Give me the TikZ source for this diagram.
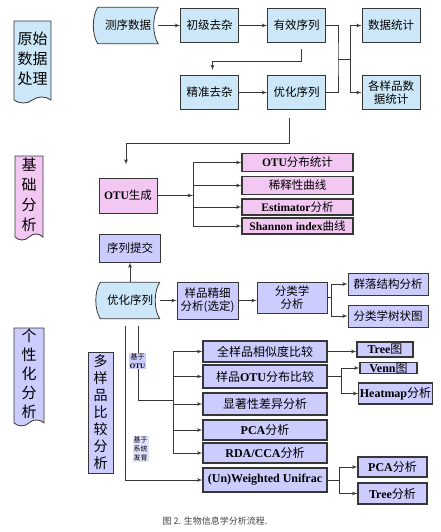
\documentclass[tikz,border=0pt]{standalone}
\usepackage{fontspec}
\setmainfont{Noto Sans CJK SC}
\newfontfamily\tnr{Liberation Serif}
\usepackage{tikz}
\usetikzlibrary{arrows,calc,positioning,shapes.symbols,backgrounds}
\definecolor{bluefill}{RGB}{204,232,248}
\definecolor{pinkfill}{RGB}{242,200,242}
\definecolor{lavfill}{RGB}{204,204,255}
\definecolor{lavlight}{RGB}{226,226,255}
\definecolor{linegray}{RGB}{55,55,55}
\newcommand{\entxt}[1]{{\tnr\bfseries #1}}
% data-store outline drawn behind a node
\newcommand{\storeshape}[1]{%
	\draw[line, fill=bluefill] (#1.north west) .. controls +(-6,9) and +(-6,-9) .. (#1.south west)
		-- (#1.south east) .. controls +(-6,-9) and +(-6,9) .. (#1.north east) -- cycle;}
\tikzset{%
	box/.style      = {draw=linegray, line width=0.8pt, rectangle, inner sep=1pt, align=center, font=\fontsize{11.5}{13}\selectfont},
	bluebox/.style  = {box, fill=bluefill, minimum width=58pt, minimum height=34pt},
	pinkbox/.style  = {box, fill=pinkfill, line width=1.1pt, minimum width=111pt, font=\fontsize{11.5}{13}\selectfont},
	lavbox/.style   = {box, fill=lavfill},
	resbox/.style   = {box, fill=lavfill, line width=1.1pt, font=\fontsize{12}{13}\selectfont},
	banner/.style   = {draw=linegray, line width=0.8pt, tape, tape bend top=none, tape bend height=6pt, inner sep=1pt, align=center, font=\fontsize{15}{20}\selectfont},
	store/.style    = {inner sep=1pt, align=center, minimum height=36pt, font=\fontsize{11.5}{13}\selectfont},
	tag/.style      = {fill=lavfill, inner sep=1pt, align=center, font=\fontsize{7}{9}\selectfont},
	line/.style     = {draw=linegray, line width=0.8pt},
	arrow/.style    = {line, ->},
}

\begin{document}
\begin{tikzpicture}[x=1pt,y=-1pt,>=latex']
	\useasboundingbox (0,0) rectangle (441,532);

	% raw data processing
	\node[banner, fill=bluefill, minimum width=37pt, minimum height=82pt] (pre) at (32.5,59) {原始\\数据\\处理};
	\node[store, minimum width=60pt] (seq) at (128,25.5) {测序数据};
	\node[bluebox] (raw) [right of=seq, node distance=81.5pt] {初级去杂};
	\node[bluebox] (valid) [right of=raw, node distance=87pt] {有效序列};
	\node[bluebox] (stat) [right of=valid, node distance=94.5pt] {数据统计};
	\node[bluebox] (fine) [below of=raw, node distance=67pt] {精准去杂};
	\node[bluebox] (opt) [below of=valid, node distance=67pt] {优化序列};
	\node[bluebox] (sstat) [below of=stat, node distance=67pt] {各样品数\\据统计};

	% basic analysis
	\node[banner, fill=pinkfill, minimum width=28pt, minimum height=84pt] (base) at (29,195) {基\\础\\分\\析};
	\node[box, fill=pinkfill, minimum width=58pt, minimum height=35pt] (otu) at (128,195.5) {\entxt{OTU}生成};
	\node[pinkbox, minimum height=18pt] (dist) at (297.5,162.5) {\entxt{OTU}分布统计};
	\node[pinkbox, minimum height=18pt] (rare) [below of=dist, node distance=23pt] {稀释性曲线};
	\node[pinkbox, minimum height=16pt] (esti) [below of=rare, node distance=21.5pt] {\entxt{Estimator}分析};
	\node[pinkbox, minimum height=16pt] (shan) [below of=esti, node distance=19pt] {\entxt{Shannon index}曲线};

	% personalised analysis
	\node[banner, fill=lavfill, minimum width=30pt, minimum height=92pt, font=\fontsize{15}{19}\selectfont] (pers) at (29,374) {个\\性\\化\\分\\析};
	\node[store, minimum width=59pt] (opt2) at (130,300.5) {优化序列};
	\node[lavbox, minimum width=61pt, minimum height=28pt] (submit) [above of=opt2, node distance=52.5pt] {序列提交};
	\node[lavbox, minimum width=61pt, minimum height=37pt] (fine2) [right of=opt2, node distance=77.5pt] {样品精细\\分析(选定)};
	\node[lavbox, minimum width=70pt, minimum height=31pt] (taxo) at (292,297.5) {分类学\\分析};
	\node[lavbox, minimum width=80pt, minimum height=22pt] (comm) at (388,284) {群落结构分析};
	\node[lavbox, minimum width=80pt, minimum height=22pt] (tree0) [below of=comm, node distance=32pt] {分类学树状图};

	\node[box, fill=lavfill, minimum width=25pt, minimum height=121pt, font=\fontsize{14}{17}\selectfont] (multi) at (100.5,412.5) {多\\样\\品\\比\\较\\分\\析};
	\node[resbox, minimum width=124pt, minimum height=21pt] (simi) at (265,351.5) {全样品相似度比较};
	\node[resbox, minimum width=124pt, minimum height=23pt] (otucmp) [below of=simi, node distance=25pt] {样品\entxt{OTU}分布比较};
	\node[resbox, minimum width=124pt, minimum height=22pt] (signif) [below of=otucmp, node distance=27.5pt] {显著性差异分析};
	\node[resbox, minimum width=124pt, minimum height=20pt] (pca) [below of=signif, node distance=26pt] {\entxt{PCA}分析};
	\node[resbox, minimum width=124pt, minimum height=20pt] (rda) [below of=pca, node distance=23pt] {\entxt{RDA/CCA}分析};
	\node[resbox, minimum width=124pt, minimum height=24pt] (unifrac) [below of=rda, node distance=27pt] {\entxt{(Un)Weighted Unifrac}};
	\node[resbox, minimum width=56pt, minimum height=15pt, inner sep=0pt] (tree1) at (385,349.5) {\entxt{Tree}图};
	\node[resbox, minimum width=57pt, minimum height=11pt, inner sep=0pt] (venn) at (388.5,368) {\entxt{Venn}图};
	\node[resbox, minimum width=73pt, minimum height=21pt] (heat) at (395.5,393.5) {\entxt{Heatmap}分析};
	\node[resbox, minimum width=69pt, minimum height=20pt] (pca2) at (392.5,467) {\entxt{PCA}分析};
	\node[resbox, minimum width=69pt, minimum height=21pt] (tree2) [below of=pca2, node distance=26.5pt] {\entxt{Tree}分析};

	\begin{scope}[on background layer]
		\storeshape{seq}
		\storeshape{opt2}
	\end{scope}

	\coordinate (m1) at (338,59);
	\coordinate (m2) at (350,59);
	\coordinate (b1) at (193,195.5);
	\coordinate (b2) at (331,297.5);
	\coordinate (b3) at (173,400);
	\coordinate (b4) at (341,376.5);
	\coordinate (b5) at (339,480);

	\draw[arrow] (seq) -- (raw);
	\draw[arrow] (raw) -- (valid);
	\draw[arrow, shorten <=6pt, shorten >=5pt] ([xshift=4.5pt]valid.south) -- ++(0,19) -| ([xshift=3pt]fine.north);
	\draw[arrow] (fine) -- (opt);
	\draw[line] (valid.east) -| (m1) |- (opt.east);
	\draw[line] (m1) -- (m2);
	\draw[arrow] (m2) |- (stat.west);
	\draw[arrow] (m2) |- (sstat.west);

	\draw[arrow, shorten <=8pt, shorten >=13pt] ([xshift=-7pt]opt.south) -- ++(0,33) -| ([xshift=-2pt]otu.north);
	\draw[arrow] (otu) -- (b1);
	\draw[line] (b1 |- dist) -- (b1 |- shan);
	\foreach \n in {dist,rare,esti,shan}
		\draw[arrow] (b1 |- \n) -- (\n.west);

	\draw[arrow] (opt2) -- (submit);
	\draw[arrow] (opt2) -- (fine2);
	\draw[arrow] (fine2) -- (fine2 -| taxo.west);
	\draw[line] (taxo.east) -- (b2);
	\draw[arrow] (b2) |- (comm.west);
	\draw[arrow] (b2) |- (tree0.west);

	\draw[line, shorten <=7pt] ([xshift=8pt]opt2.south) |- (b3);
	\draw[arrow, shorten <=7pt] ([xshift=-5pt]opt2.south) |- (unifrac.west);
	\draw[line] (b3 |- simi) -- (b3 |- rda);
	\foreach \n in {simi,otucmp,signif,pca,rda}
		\draw[arrow] (b3 |- \n) -- (\n.west);
	\draw[arrow] (simi.east) -- (simi.east -| tree1.west);
	\draw[line] (otucmp.east) -- (b4);
	\draw[arrow] (b4) |- (venn.west);
	\draw[arrow] (b4) |- (heat.west);
	\draw[line] (unifrac.east) -- (b5);
	\draw[arrow] (b5) |- (pca2.west);
	\draw[arrow] (b5) |- (tree2.west);

	\node[tag] (otulbl) at (137.5,361) {基于\\\entxt{OTU}};
	\node[tag, fill=lavlight] (phylbl) at (140.5,449) {基于\\系统\\发育};

	\node[font=\fontsize{9}{11}\selectfont, text=black!75] (cap) at (215,521) {图 2. 生物信息学分析流程.};
\end{tikzpicture}
\end{document}
